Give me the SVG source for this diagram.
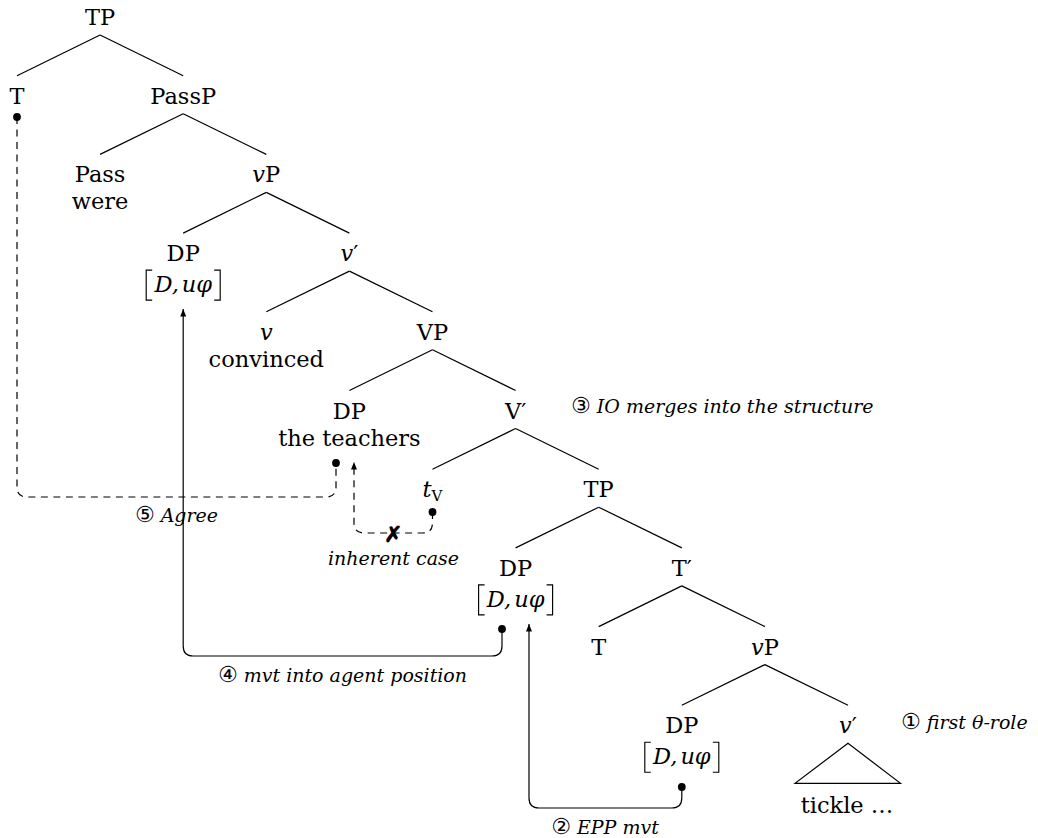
<svg xmlns="http://www.w3.org/2000/svg" width="1038" height="838" viewBox="0 0 1038 838">
  <style>
    text { font-family: "DejaVu Serif", "Liberation Serif", serif; fill: #000; }
    .nd { font-size: 22.5px; text-anchor: middle; }
    .it { font-style: italic; }
    .lbl { font-size: 19px; font-style: italic; }
    .mid { text-anchor: middle; }
    .circ { font-family: "DejaVu Sans", "Noto Sans CJK JP", sans-serif; font-style: normal; font-size: 22px; }
    .br { fill: none; stroke: #000; stroke-width: 1.15; }
    .edges line, .edges polygon { stroke: #000; stroke-width: 1.2; fill: none; }
    .conn { fill: none; stroke: #000; stroke-width: 1.2; }
    .dash { stroke-dasharray: 7 5.5; }
    .dot { fill: #000; }
  </style>
  <defs>
    <marker id="tip" markerUnits="userSpaceOnUse" markerWidth="10" markerHeight="8" refX="7.5" refY="3" orient="auto">
      <path d="M0,0 L7.5,3 L0,6 z" fill="#000"/>
    </marker>
    <!-- bracketed feature bundle [D, uφ], origin at centre baseline -->
    <g id="feat">
      <path class="br" d="M-31,-22 H-37 V8 H-31 M31,-22 H37 V8 H31"/>
      <text class="it" x="0" y="0" font-size="22.5" text-anchor="middle">D,<tspan dx="3">uφ</tspan></text>
    </g>
  </defs>

  <!-- tree branches -->
  <g id="branches" class="edges">
    <line x1="100.1" y1="35" x2="17" y2="75.7"/>
    <line x1="100.1" y1="35" x2="183.2" y2="75.7"/>
    <line x1="183.2" y1="113.7" x2="100.1" y2="154.4"/>
    <line x1="183.2" y1="113.7" x2="266.3" y2="154.4"/>
    <line x1="266.3" y1="192.4" x2="183.2" y2="233.1"/>
    <line x1="266.3" y1="192.4" x2="349.4" y2="233.1"/>
    <line x1="349.4" y1="271.1" x2="266.3" y2="311.8"/>
    <line x1="349.4" y1="271.1" x2="432.5" y2="311.8"/>
    <line x1="432.5" y1="349.8" x2="349.4" y2="390.5"/>
    <line x1="432.5" y1="349.8" x2="515.6" y2="390.5"/>
    <line x1="515.6" y1="428.5" x2="432.5" y2="469.2"/>
    <line x1="515.6" y1="428.5" x2="598.7" y2="469.2"/>
    <line x1="598.7" y1="507.2" x2="515.6" y2="547.9"/>
    <line x1="598.7" y1="507.2" x2="681.8" y2="547.9"/>
    <line x1="681.8" y1="585.9" x2="598.7" y2="626.6"/>
    <line x1="681.8" y1="585.9" x2="764.9" y2="626.6"/>
    <line x1="764.9" y1="664.6" x2="681.8" y2="705.3"/>
    <line x1="764.9" y1="664.6" x2="848" y2="705.3"/>
    <polygon points="848,743.3 795,783.3 900.5,783.3"/>
  </g>

  <!-- nodes -->
  <g id="n-TP-top"><text class="nd" x="100.1" y="25">TP</text></g>
  <g id="n-T-high"><text class="nd" x="17" y="103.7">T</text></g>
  <g id="n-PassP"><text class="nd" x="183.2" y="103.7">PassP</text></g>
  <g id="n-Pass"><text class="nd" x="100.1" y="182.4">Pass</text><text class="nd" x="100.1" y="209.4">were</text></g>
  <g id="n-vP-high"><text class="nd" x="266.3" y="182.4"><tspan class="it">v</tspan>P</text></g>
  <g id="n-DP-agent"><text class="nd" x="183.2" y="261.1">DP</text><use href="#feat" x="183.2" y="292.1"/></g>
  <g id="n-vbar-high"><text class="nd" x="349.4" y="261.1"><tspan class="it">v</tspan>′</text></g>
  <g id="n-v"><text class="nd it" x="266.3" y="339.8">v</text><text class="nd" x="266.3" y="366.8">convinced</text></g>
  <g id="n-VP"><text class="nd" x="432.5" y="339.8">VP</text></g>
  <g id="n-DP-io"><text class="nd" x="349.4" y="418.5">DP</text><text class="nd" x="349.4" y="445.5">the teachers</text></g>
  <g id="n-Vbar"><text class="nd" x="515.6" y="418.5">V′</text></g>
  <g id="n-tV"><text class="nd" x="432.5" y="497.2"><tspan class="it">t</tspan><tspan font-size="15" dy="4">V</tspan></text></g>
  <g id="n-TP-low"><text class="nd" x="598.7" y="497.2">TP</text></g>
  <g id="n-DP-spec"><text class="nd" x="515.6" y="575.9">DP</text><use href="#feat" x="515.6" y="606.9"/></g>
  <g id="n-Tbar"><text class="nd" x="681.8" y="575.9">T′</text></g>
  <g id="n-T-low"><text class="nd" x="598.7" y="654.6">T</text></g>
  <g id="n-vP-low"><text class="nd" x="764.9" y="654.6"><tspan class="it">v</tspan>P</text></g>
  <g id="n-DP-base"><text class="nd" x="681.8" y="733.3">DP</text><use href="#feat" x="681.8" y="764.3"/></g>
  <g id="n-vbar-low"><text class="nd" x="848" y="733.3"><tspan class="it">v</tspan>′</text><text class="nd" x="847" y="812.7">tickle …</text></g>

  <!-- movement / agreement connectors -->
  <g id="connectors">
    <!-- Agree -->
    <path class="conn dash" d="M17,117 V487 Q17,497 27,497 H326 Q336,497 336,487 V463"/>
    <circle class="dot" cx="17" cy="117" r="3.9"/>
    <circle class="dot" cx="336" cy="463" r="3.9"/>
    <!-- movement into agent position -->
    <path class="conn" d="M502,629 V646 Q502,656 492,656 H193 Q183.2,656 183.2,646 V309" marker-end="url(#tip)"/>
    <circle class="dot" cx="502" cy="629" r="3.9"/>
    <!-- EPP movement -->
    <path class="conn" d="M681.8,787 V798 Q681.8,808 671.8,808 H539 Q529,808 529,798 V624" marker-end="url(#tip)"/>
    <circle class="dot" cx="681.8" cy="787" r="3.9"/>
    <!-- blocked inherent case -->
    <path class="conn dash" d="M432.5,512 V523 Q432.5,533 422.5,533 H364 Q354,533 354,523 V462" marker-end="url(#tip)"/>
    <circle class="dot" cx="432.5" cy="512" r="3.9"/>
    <text x="393" y="542" font-family="DejaVu Sans, sans-serif" font-size="22" font-weight="bold" text-anchor="middle">✗</text>
  </g>

  <!-- annotations -->
  <g id="labels">
    <text class="lbl" x="571" y="413.3"><tspan class="circ">③</tspan> IO merges into the structure</text>
    <text class="lbl" x="901" y="728.5"><tspan class="circ">①</tspan> first θ-role</text>
    <text class="lbl mid" x="176.5" y="521.7"><tspan class="circ">⑤</tspan> Agree</text>
    <text class="lbl mid" x="393.5" y="565">inherent case</text>
    <text class="lbl mid" x="342.5" y="681.7"><tspan class="circ">④</tspan> mvt into agent position</text>
    <text class="lbl mid" x="605" y="834"><tspan class="circ">②</tspan> EPP mvt</text>
  </g>
</svg>
